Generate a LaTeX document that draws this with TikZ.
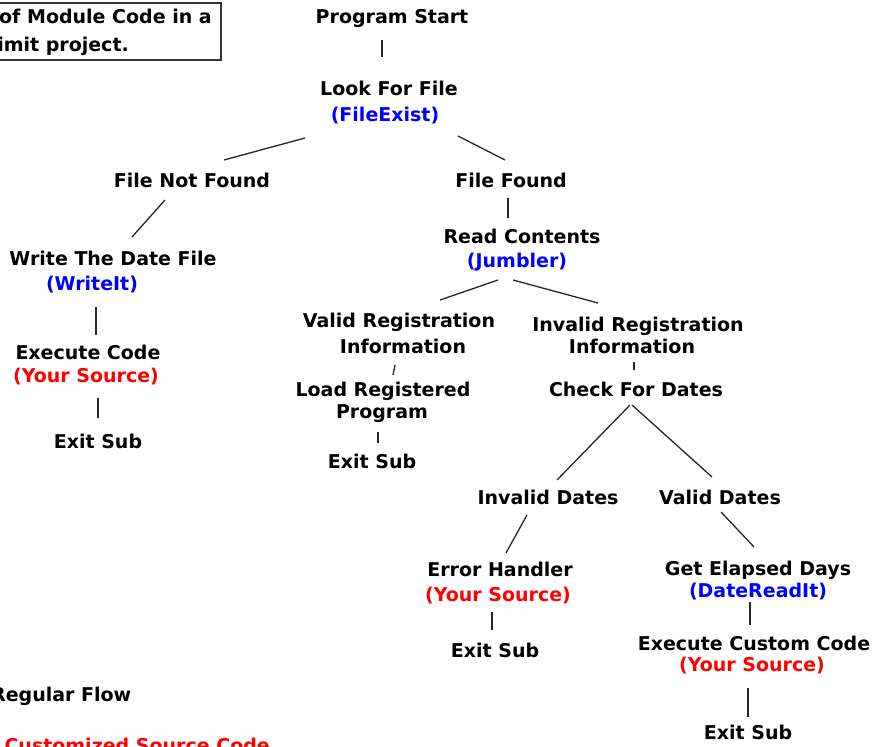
\documentclass[tikz,border=0pt]{standalone}
\usepackage{fontspec}
\setmainfont{DejaVu Sans}
\definecolor{srcred}{RGB}{255,0,0}
\definecolor{fnblue}{RGB}{0,0,255}
\tikzset{
  t/.style={anchor=base, inner sep=0pt, font=\bfseries\fontsize{19}{24}\selectfont, text=black},
  tb/.style={t, text=fnblue},
  tr/.style={t, text=srcred},
  link/.style={draw=black!85, line width=1.3pt},
}
\begin{document}
\begin{tikzpicture}[x=1pt, y=-1pt]
\useasboundingbox (0,0) rectangle (877,746);
\clip (0,0) rectangle (877,746);
% note box
\draw[line width=1.5pt, draw=black!80] (-6,3) rectangle (221,60);
\node[t, anchor=base east] (note1) at (212,24) {of Module Code in a};
\node[t, anchor=base east] (note2) at (129,52) {imit project.};
% legend
\node[t, anchor=base west] (leg1) at (-9,701) {Regular Flow};
\node[tr, anchor=base east] (leg2) at (270,752) {Customized Source Code};
% nodes
\node[t] (start) at (392,24) {Program Start};
\node[t] (look) at (389,96) {Look For File};
\node[tb] (lookf) at (385,122) {(FileExist)};
\node[t] (fnf) at (192,187) {File Not Found};
\node[t] (ff) at (511,187) {File Found};
\node[t] (write) at (113,265) {Write The Date File};
\node[tb] (writef) at (92,290) {(WriteIt)};
\node[t] (exec) at (88,359) {Execute Code};
\node[tr] (execf) at (86,382) {(Your Source)};
\node[t] (exit1) at (98,448) {Exit Sub};
\node[t] (read) at (522,243) {Read Contents};
\node[tb] (readf) at (517,267) {(Jumbler)};
\node[t] (vr1) at (399,327) {Valid Registration};
\node[t] (vr2) at (403,353) {Information};
\node[t] (ir1) at (638,331) {Invalid Registration};
\node[t] (ir2) at (632,353) {Information};
\node[t] (load1) at (383,396) {Load Registered};
\node[t] (load2) at (382,418) {Program};
\node[t] (exit2) at (372,468) {Exit Sub};
\node[t] (check) at (636,396) {Check For Dates};
\node[t] (idates) at (548,504) {Invalid Dates};
\node[t] (vdates) at (720,504) {Valid Dates};
\node[t] (err) at (500,576) {Error Handler};
\node[tr] (errf) at (498,601) {(Your Source)};
\node[t] (exit3) at (495,657) {Exit Sub};
\node[t] (get) at (758,575) {Get Elapsed Days};
\node[tb] (getf) at (758,597) {(DateReadIt)};
\node[t] (cust) at (754,650) {Execute Custom Code};
\node[tr] (custf) at (752,671) {(Your Source)};
\node[t] (exit4) at (748,739) {Exit Sub};
% connectors
\draw[link] ([shift={(-10,16)}]start.base) -- ([shift={(-7,-39)}]look.base);
\draw[link] ([shift={(-80,16)}]lookf.base) -- ([shift={(32,-27)}]fnf.base);
\draw[link] ([shift={(73,14)}]lookf.base) -- ([shift={(-6,-27)}]ff.base);
\draw[link] ([shift={(-27,13)}]fnf.base) -- ([shift={(19,-28)}]write.base);
\draw[link] ([shift={(-3,11)}]ff.base) -- ([shift={(-14,-25)}]read.base);
\draw[link] ([shift={(4,17)}]writef.base) -- ([shift={(8,-24)}]exec.base);
\draw[link] ([shift={(12,16)}]execf.base) -- ([shift={(0,-30)}]exit1.base);
\draw[link] ([shift={(-19,13)}]readf.base) -- ([shift={(41,-27)}]vr1.base);
\draw[link] ([shift={(-4,13)}]readf.base) -- ([shift={(-40,-28)}]ir1.base);
\draw[link] ([shift={(-8,12)}]vr2.base) -- ([shift={(10,-21)}]load1.base);
\draw[link] ([shift={(2,9)}]ir2.base) -- ([shift={(-2,-26)}]check.base);
\draw[link] ([shift={(-4,14)}]load2.base) -- ([shift={(6,-25)}]exit2.base);
\draw[link] ([shift={(-6,9)}]check.base) -- ([shift={(9,-24)}]idates.base);
\draw[link] ([shift={(-4,9)}]check.base) -- ([shift={(-8,-27)}]vdates.base);
\draw[link] ([shift={(-21,11)}]idates.base) -- ([shift={(6,-23)}]err.base);
\draw[link] ([shift={(1,8)}]vdates.base) -- ([shift={(-4,-28)}]get.base);
\draw[link] ([shift={(-6,11)}]errf.base) -- ([shift={(-3,-27)}]exit3.base);
\draw[link] ([shift={(-8,5)}]getf.base) -- ([shift={(-4,-25)}]cust.base);
\draw[link] ([shift={(-4,17)}]custf.base) -- ([shift={(0,-22)}]exit4.base);
\end{tikzpicture}
\end{document}
